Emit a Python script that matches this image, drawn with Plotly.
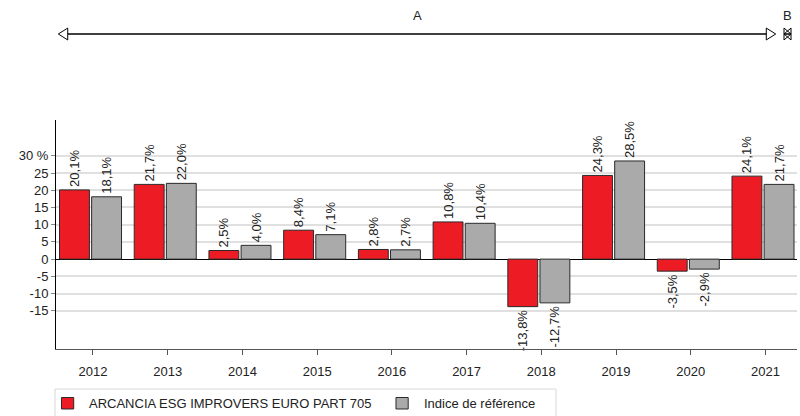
import plotly.graph_objects as go

years = [2012, 2013, 2014, 2015, 2016, 2017, 2018, 2019, 2020, 2021]
fund = [20.1, 21.7, 2.5, 8.4, 2.8, 10.8, -13.8, 24.3, -3.5, 24.1]
index_ref = [18.1, 22.0, 4.0, 7.1, 2.7, 10.4, -12.7, 28.5, -2.9, 21.7]
fund_name = "ARCANCIA ESG IMPROVERS EURO PART 705"
index_name = "Indice de référence"
ytick_vals = [-15, -10, -5, 0, 5, 10, 15, 20, 25, 30]
ytick_text = ["-15", "-10", "-5", "0", "5", "10", "15", "20", "25", "30 %"]
periods = [("A", 2011.569, 2021.17), ("B", 2021.281, 2021.375)]


def fmt(v):
    return f"{v:.1f}".replace(".", ",") + "%"


FONT = "Liberation Sans, Arial, sans-serif"
FS = 13
RED = "#ED1C24"
GRAY = "#AAAAAA"
EDGE = "#2a2a2a"

fig = go.Figure()
fig.add_trace(go.Bar(
    x=years, y=fund, name=fund_name, width=0.40, offset=-0.415,
    marker=dict(color=RED, line=dict(color=EDGE, width=1)),
    text=[fmt(v) for v in fund], textposition="outside", textangle=-90,
    textfont=dict(size=FS, color="#222", family=FONT),
    cliponaxis=False, constraintext="none", showlegend=False,
))
fig.add_trace(go.Bar(
    x=years, y=index_ref, name=index_name, width=0.40, offset=0.015,
    marker=dict(color=GRAY, line=dict(color=EDGE, width=1)),
    text=[fmt(v) for v in index_ref], textposition="outside", textangle=-90,
    textfont=dict(size=FS, color="#222", family=FONT),
    cliponaxis=False, constraintext="none", showlegend=False,
))

# period arrows at top
ay = 1.3755
ah = 0.026  # half height of arrowhead (paper)
aw = 0.126  # arrowhead width in x units
shapes = []
annotations = []
for label, s, e in periods:
    w = min(aw, (e - s))
    shapes.append(dict(type="line", xref="x", yref="paper", x0=s + w, x1=e - w,
                       y0=ay, y1=ay, line=dict(color="black", width=1.5)))
    shapes.append(dict(type="path", xref="x", yref="paper",
                       path=f"M{s},{ay} L{s + w},{ay + ah} L{s + w},{ay - ah} Z",
                       fillcolor="rgba(0,0,0,0)", line=dict(color="black", width=1)))
    shapes.append(dict(type="path", xref="x", yref="paper",
                       path=f"M{e},{ay} L{e - w},{ay + ah} L{e - w},{ay - ah} Z",
                       fillcolor="rgba(0,0,0,0)", line=dict(color="black", width=1)))
    annotations.append(dict(x=(s + e) / 2, y=1.456, xref="x", yref="paper",
                            xanchor="center", yanchor="middle",
                            text=label, showarrow=False,
                            font=dict(size=FS, color="#222", family=FONT)))

# legend (frame, swatches, labels)
shapes.append(dict(type="rect", xref="paper", yref="paper",
                   x0=-0.0013, x1=0.6748, y0=-0.305, y1=-0.1747,
                   line=dict(color="#d8d8d8", width=1), fillcolor="rgba(0,0,0,0)"))
legend_items = [(fund_name, RED, 0.0074, 0.0417), (index_name, GRAY, 0.4588, 0.4939)]
for name, color, sx, tx in legend_items:
    shapes.append(dict(type="rect", xref="paper", yref="paper",
                       x0=sx, x1=sx + 0.0165, y0=-0.2620, y1=-0.2118,
                       line=dict(color=EDGE, width=1), fillcolor=color))
    annotations.append(dict(x=tx, y=-0.2375, xref="paper", yref="paper",
                            xanchor="left", yanchor="middle", text=name,
                            showarrow=False,
                            font=dict(size=FS, color="#222", family=FONT)))

fig.update_layout(
    width=800, height=416,
    margin=dict(l=56, r=3, t=120, b=67),
    plot_bgcolor="white", paper_bgcolor="white",
    font=dict(family=FONT, size=FS, color="#222"),
    barmode="overlay",
    showlegend=False,
    shapes=shapes, annotations=annotations,
    xaxis=dict(range=[2011.538, 2021.455], tickvals=[y + 0.033 for y in years],
               ticktext=[str(y) for y in years], showgrid=False, zeroline=False,
               showline=True, linecolor="#555", linewidth=1,
               ticks="outside", ticklen=5, tickcolor="#555", ticklabelstandoff=5,
               tickfont=dict(size=FS, color="#222")),
    yaxis=dict(range=[-26.1, 40.4], tickvals=ytick_vals, ticktext=ytick_text,
               showgrid=True, gridcolor="#e0e0e0", gridwidth=1.5,
               zeroline=True, zerolinecolor="black", zerolinewidth=1,
               showline=True, linecolor="black", linewidth=1,
               ticks="outside", ticklen=4, tickcolor="#888",
               tickfont=dict(size=FS, color="#222")),
)

fig.write_html("out.html", config={"displayModeBar": False},
               post_script="document.body.style.margin='0px';")
